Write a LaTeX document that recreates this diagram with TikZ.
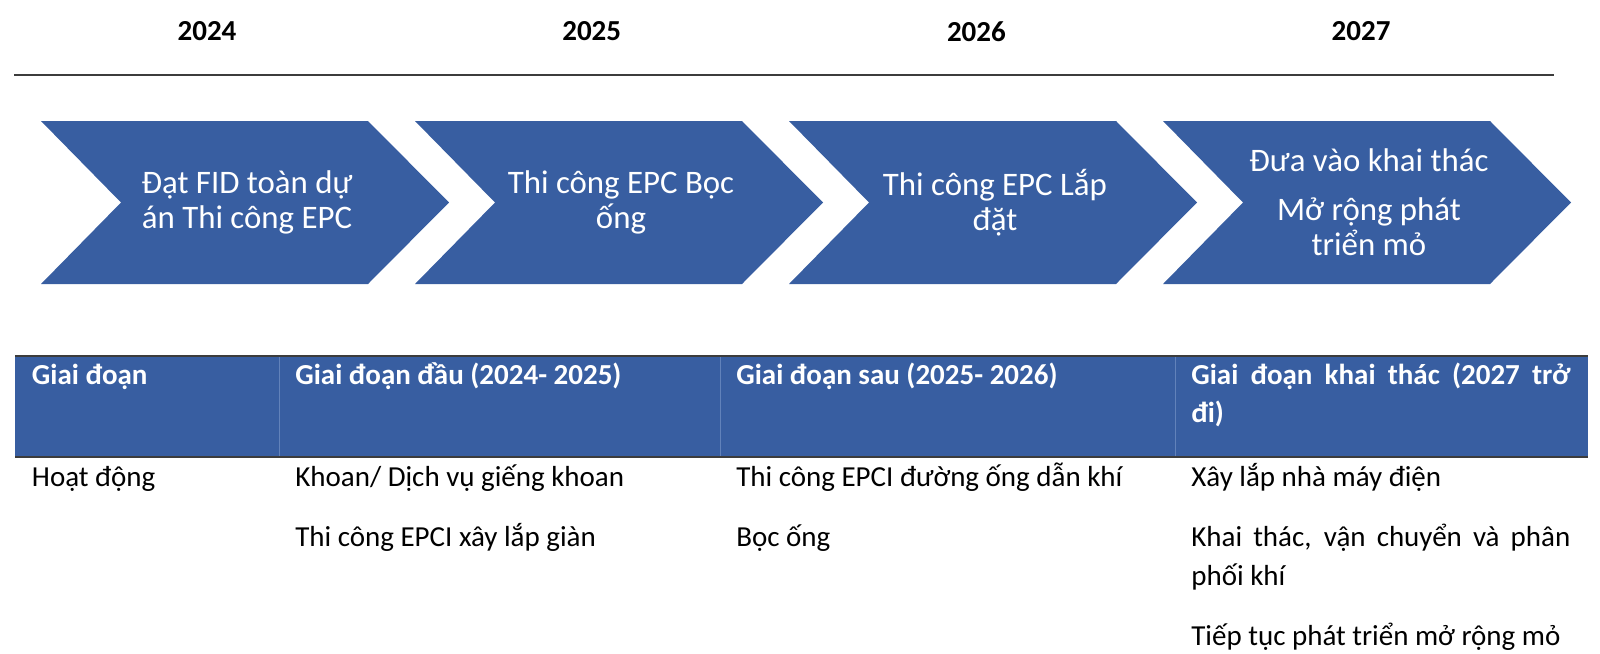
\documentclass[tikz,border=0pt]{standalone}
\usepackage{fontspec}
\setmainfont{Carlito}
\definecolor{phaseblue}{RGB}{56,94,161}
\definecolor{sepblue}{RGB}{98,130,186}
\definecolor{rulegray}{RGB}{60,60,60}

\begin{document}
\begin{tikzpicture}[x=0.02cm, y=-0.02cm, font=\fontsize{16.5}{20}\selectfont,
	year/.style={font=\fontsize{16.5}{20}\selectfont\bfseries},
	chevtext/.style={text=white, align=center, font=\fontsize{18.7}{19.8}\selectfont},
	head/.style={text=white, anchor=base west, inner sep=0pt, font=\fontsize{16.5}{20}\selectfont\bfseries},
	cell/.style={anchor=base west, inner sep=0pt}]
		\useasboundingbox (0,0) rectangle (1600,653);
		% years
		\foreach \yr [count=\i from 0] in {2024,2025,2026,2027} {
			\node[year] (yr\i) at (207+384.7*\i,31.5) {\yr};
		}
		% time line
		\coordinate (tl0) at (14,75);
		\coordinate (tl1) at (1554,75);
		\draw[rulegray, line width=0.8pt] (tl0) -- (tl1);
		% chevrons
		\foreach \i in {0,1,2,3} {
			\fill[phaseblue] (41+374*\i,121) -- ++(327,0) -- ++(81,81.5) -- ++(-81,81.5)
				-- ++(-327,0) -- ++(80,-81.5) -- cycle;
		}
		\node[chevtext] (ch0) at (247,202.5) {Đạt FID toàn dự\\án Thi công EPC};
		\node[chevtext] (ch1) at (621,202.5) {Thi công EPC Bọc\\ống};
		\node[chevtext] (ch2) at (995,202.5) {Thi công EPC Lắp\\đặt};
		\node[chevtext] (ch3) at (1369,202.5) {Đưa vào khai thác\\[8pt]Mở rộng phát\\triển mỏ};
		% table header
		\fill[phaseblue] (15,356) rectangle (1588,457);
		\foreach \x in {279.6,720,1175} {
			\draw[sepblue, line width=0.5pt] (\x,356) -- (\x,457);
		}
		\draw[rulegray, line width=0.6pt] (15,356) -- (1588,356);
		\draw[rulegray, line width=1.2pt] (15,457) -- (1588,457);
		\node[head] (h1) at (31.6,384) {Giai đoạn};
		\node[head] (h2) at (295,384) {Giai đoạn đầu (2024- 2025)};
		\node[head] (h3) at (736,384) {Giai đoạn sau (2025- 2026)};
		\node[head] (h4) at (1191,384) {\makebox[7.58cm][s]{Giai đoạn khai thác (2027 trở}};
		\node[head] (h4b) at (1191,422) {đi)};
		% table body
		\node[cell] (c1) at (31.6,486) {Hoạt động};
		\node[cell] (c2a) at (295,486) {Khoan/ Dịch vụ giếng khoan};
		\node[cell] (c2b) at (295,546.7) {Thi công EPCI xây lắp giàn};
		\node[cell] (c3a) at (736,486) {Thi công EPCI đường ống dẫn khí};
		\node[cell] (c3b) at (736,546.7) {Bọc ống};
		\node[cell] (c4a) at (1191,486) {Xây lắp nhà máy điện};
		\node[cell] (c4b) at (1191,546.7) {\makebox[7.58cm][s]{Khai thác, vận chuyển và phân}};
		\node[cell] (c4c) at (1191,585) {phối khí};
		\node[cell] (c4d) at (1191,645) {Tiếp tục phát triển mở rộng mỏ};
	\end{tikzpicture}
\end{document}
